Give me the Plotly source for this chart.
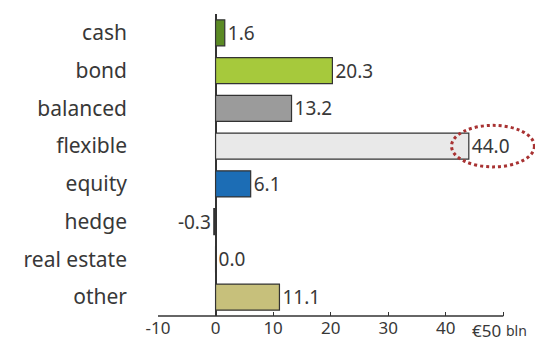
import plotly.graph_objects as go

categories = ["cash", "bond", "balanced", "flexible", "equity", "hedge", "real estate", "other"]
values = [1.6, 20.3, 13.2, 44.0, 6.1, -0.3, 0.0, 11.1]
labels = ["1.6", "20.3", "13.2", "44.0", "6.1", "-0.3", "0.0", "11.1"]
colors = ["#5b8a24", "#a6c93c", "#9b9b9b", "#e9e9e9", "#1c6db5", "#333333", "#ffffff", "#c7c07b"]
tick_vals = [-10, 0, 10, 20, 30, 40, 50]
tick_text = ["-10", "0", "10", "20", "30", "40", ""]

fig = go.Figure(go.Bar(
    x=values, y=categories, orientation="h",
    marker=dict(color=colors, line=dict(color="#333333", width=1.2)),
    width=0.69,
    text=labels, textposition="outside", cliponaxis=False,
    textfont=dict(family="Noto Sans", size=19, color="#383838"),
))

fig.update_layout(
    width=535, height=342,
    margin=dict(l=158, r=0, t=14, b=26),
    paper_bgcolor="white", plot_bgcolor="white",
    showlegend=False,
    xaxis=dict(range=[-10, 55.5], tickvals=tick_vals, ticktext=tick_text,
               showgrid=False, zeroline=True, zerolinecolor="#333333", zerolinewidth=1.5,
               ticks="inside", ticklen=4, tickcolor="#333333", showline=False,
               tickfont=dict(family="Noto Sans", size=17, color="#383838")),
    yaxis=dict(categoryorder="array", categoryarray=categories[::-1],
               range=[-0.5, 7.5], showgrid=False, zeroline=False, ticks="",
               ticklabelstandoff=30,
               tickfont=dict(family="Noto Sans", size=21, color="#383838")),
)

# axis baseline from -10 to 50
fig.add_shape(type="line", xref="x", yref="paper", x0=-10, x1=50, y0=0, y1=0,
              line=dict(color="#333333", width=1.5))

fig.add_annotation(x=50, y=0, xref="x", yref="paper", text="€50", showarrow=False,
                   xanchor="right", yanchor="top", yshift=-1,
                   font=dict(family="Noto Sans", size=17, color="#383838"))
fig.add_annotation(x=50, y=0, xref="x", yref="paper", text="bln", showarrow=False,
                   xanchor="left", yanchor="top", yshift=-3, xshift=1,
                   font=dict(family="Noto Sans", size=14, color="#383838"))

# dotted ellipse highlighting flexible
fig.add_shape(type="circle", xref="x", yref="y", x0=41.0, x1=55.4, y0=3.45, y1=4.55,
              line=dict(color="#a83232", width=3, dash="dot"))

fig.write_html("out.html")
